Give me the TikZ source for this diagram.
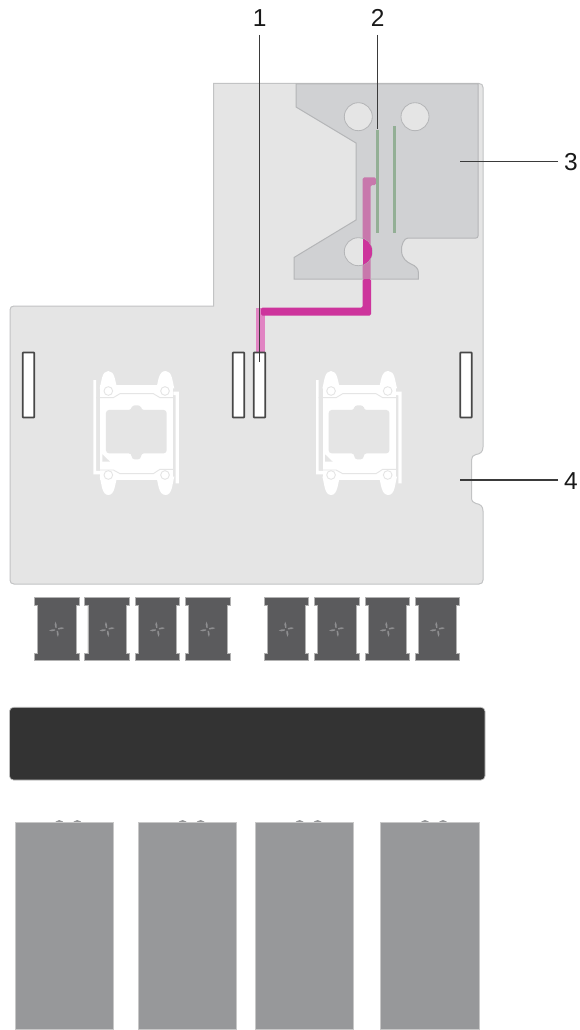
\documentclass[tikz,border=0pt]{standalone}
\usepackage{fontspec}
\setmainfont{Liberation Sans}
\definecolor{boardc}{HTML}{E5E5E5}
\definecolor{boardl}{HTML}{C2C3C4}
\definecolor{riserc}{HTML}{D0D1D3}
\definecolor{riserl}{HTML}{B4B5B7}
\definecolor{greenc}{HTML}{93AF95}
\definecolor{pinkc}{HTML}{CD349C}
\definecolor{pinkl}{HTML}{C878AC}
\definecolor{pinkt}{HTML}{E184C3}
\definecolor{fanc}{HTML}{5B5B5D}
\definecolor{fanb}{HTML}{8E8E90}
\definecolor{barc}{HTML}{333333}
\definecolor{psuc}{HTML}{97989A}
\definecolor{leadc}{HTML}{3A3A3A}
\tikzset{
  callout/.style={font=\fontsize{24.5}{24.5}\selectfont,text=black!90,inner sep=0pt},
  leader/.style={draw=leadc,line width=1.1pt},
  slotbox/.style={draw=black!72,line width=1.7pt,fill=white,minimum width=11.5pt,minimum height=65pt,inner sep=0pt,rounded corners=0.6pt},
  psubox/.style={fill=psuc,draw=black!22,line width=0.5pt},
  fanbox/.style={fill=fanc,draw=black!30,line width=0.5pt},
  sockline/.style={draw=boardc,line width=0.9pt},
  pics/socket/.style={code={
    \begin{scope}[x=0.3333pt,y=-0.3333pt]
      % side bars
      \fill[white] (25,45) -- (33,45) -- (33,318) -- (50,318) -- (50,328) -- (25,328) -- cycle;
      \fill[white] (265,80) -- (282,80) -- (282,355) -- (272,355) -- (272,90) -- (265,90) -- cycle;
      % ears
      \fill[white] (44,70) .. controls (50,50) and (50,18) .. (70,18) .. controls (90,18) and (90,50) .. (97,70) -- cycle;
      \fill[white] (214,70) .. controls (220,50) and (220,18) .. (242,18) .. controls (262,18) and (262,50) .. (268,70) -- cycle;
      \fill[white] (44,335) .. controls (50,355) and (50,390) .. (70,390) .. controls (90,390) and (90,355) .. (97,335) -- cycle;
      \fill[white] (214,335) .. controls (220,355) and (220,390) .. (242,390) .. controls (262,390) and (262,355) .. (268,335) -- cycle;
      % body
      \fill[white] (45,60) -- (265,60) -- (265,345) -- (45,345) -- cycle;
      % separating lines
      \draw[sockline] (33,98) -- (85,98) -- (105,86) -- (205,86) -- (225,98) -- (265,98);
      \draw[sockline] (45,315) -- (85,315) -- (105,326) -- (205,326) -- (225,313) -- (265,313);
      % window
      \fill[boardc,rounded corners=3pt] (63,135) -- (140,135) -- (140,121) -- (168,121) -- (168,135) -- (245,135) -- (245,265) -- (168,265) -- (168,283) -- (140,283) -- (140,265) -- (63,265) -- cycle;
      % corner triangle
      \fill[boardc] (52,268) -- (75,290) -- (52,290) -- cycle;
      % screw holes
      \foreach \sx/\sy in {70/78,240/78,70/330,240/330}{
        \draw[sockline] (\sx,\sy) circle[radius=13];
      }
    \end{scope}
  }},
  pics/fan/.style={code={
    \begin{scope}[x=1pt,y=-1pt]
      \fill[fanbox] (0,0) -- (44.7,0) -- (44.7,7.5) -- (41.5,7.5) -- (41.5,55.7) -- (44.7,55.7) -- (44.7,63.2) -- (0,63.2) -- (0,55.7) -- (3.2,55.7) -- (3.2,7.5) -- (0,7.5) -- cycle;
      \begin{scope}[shift={(22.4,31.8)}]
        \foreach \fa in {0,90,180,270}{
          \fill[fanb,rotate=\fa] (1.5,-1.2) .. controls (4,-2.4) and (6,-2.2) .. (7.6,-1.2) .. controls (6,-0.1) and (3.6,0.2) .. (1.5,0) -- cycle;
        }
      \end{scope}
    \end{scope}
  }},
  pics/psu/.style={code={
    \begin{scope}[x=1pt,y=-1pt]
      \fill[psuc] (\bumpa,3) circle[radius=5];
      \fill[psuc] (\bumpb,3) circle[radius=5];
      \draw[psubox] (0,0) rectangle (98.3,207.5);
    \end{scope}
  }},
}
\newcommand{\bumpa}{44.3}
\newcommand{\bumpb}{62.3}
\begin{document}
\begin{tikzpicture}[x=1pt,y=-1pt]
\useasboundingbox (0,0) rectangle (580,1030);
\fill[white] (0,0) rectangle (580,1030);

% system board
\draw[fill=boardc,draw=boardl,line width=1pt]
  (213.5,83.5) -- (479,83.5)
  .. controls (481.5,83.5) and (483,85) .. (483,87.5)
  -- (483,447)
  .. controls (483,452) and (480,454) .. (476,454.5)
  .. controls (473,455) and (471.5,457) .. (471.5,460)
  -- (471.5,497)
  .. controls (471.5,501) and (473,503) .. (476,503.5)
  .. controls (480,504) and (483,506) .. (483,511)
  -- (483,580) .. controls (483,582.5) and (481.5,584) .. (479,584)
  -- (14,584) .. controls (11.5,584) and (10,582.5) .. (10,580)
  -- (10,310) .. controls (10,307.5) and (11.5,306) .. (14,306)
  -- (213.5,306) -- cycle;

% riser
\draw[fill=riserc,draw=riserl,line width=1pt]
  (296,84) -- (478,84) [rounded corners=2pt] -- (478,238) -- (410,238)
  [sharp corners] .. controls (404,238) and (401,245) .. (401.5,251)
  .. controls (402,259) and (407,262) .. (411,264)
  .. controls (416,266) and (418.3,269) .. (418.3,272)
  -- (418.3,279) -- (294,279) -- (294,257.5) -- (356,220) -- (356,143) -- (296,107) -- cycle;

% soft pink cable part over the riser
\fill[pinkl,rounded corners=1.5pt] (376,177.3) -- (362.7,177.3) -- (362.7,280) -- (370.7,280) -- (370.7,185) -- (376,185) -- cycle;

% riser holes
\foreach \hn/\hx/\hy in {hola/358.3/116.7,holb/415/116.7,holc/358.3/251.7}{
  \draw[fill=boardc,draw=riserl,line width=0.8pt] (\hx,\hy) circle[radius=14];
}
\begin{scope}
  \clip (358.3,251.7) circle[radius=14];
  \fill[pinkc] (362.7,230) rectangle (372.5,270);
\end{scope}

% green lines
\fill[greenc] (376.2,130) rectangle (379.2,233);
\fill[greenc] (393.2,126) rectangle (396.2,233);

% pink cable on the board
\fill[pinkt] (255.5,308) rectangle (264.5,353);
\fill[pinkc,rounded corners=1.5pt] (261,307.7) -- (362.7,307.7) -- (362.7,279) -- (371,279) -- (371,315.7) -- (261,315.7) -- cycle;

% slots
\node[slotbox] (slota) at (28.5,385) {};
\node[slotbox] (slotb) at (238.5,385) {};
\node[slotbox] (slotc) at (259.5,385) {};
\node[slotbox] (slotd) at (466,385) {};

% CPU sockets
\pic at (85,365) {socket};
\pic at (307.7,365) {socket};

% fans
\foreach \fx in {34.3,84.7,135,185.3,264,314.3,365,415}{
  \pic at (\fx,597.5) {fan};
}

% dark bar
\draw[fill=barc,draw=black!25,line width=0.7pt,rounded corners=4pt] (9.5,707.3) rectangle (485,780);

% power supplies
\pic at (15,822) {psu};
\pic at (138.3,822) {psu};
\pic at (255.3,822) {psu};
\pic at (380.7,822) {psu};

% callouts
\node[callout] (n1) at (259.8,18) {1};
\node[callout] (n2) at (377.6,18) {2};
\node[callout] (n3) at (571,162) {3};
\node[callout] (n4) at (571,481) {4};
\coordinate (e1) at (259.5,362);
\coordinate (e2) at (377.5,129);
\coordinate (s1) at (259.5,35);
\coordinate (s2) at (377.5,35);
\coordinate (e3) at (460,161.7);
\coordinate (s3) at (558,161.7);
\coordinate (e4) at (460,480);
\coordinate (s4) at (558,480);
\draw[leader] (s1) -- (e1);
\draw[leader] (s2) -- (e2);
\draw[leader] (s3) -- (e3);
\draw[leader] (s4) -- (e4);
\end{tikzpicture}
\end{document}
